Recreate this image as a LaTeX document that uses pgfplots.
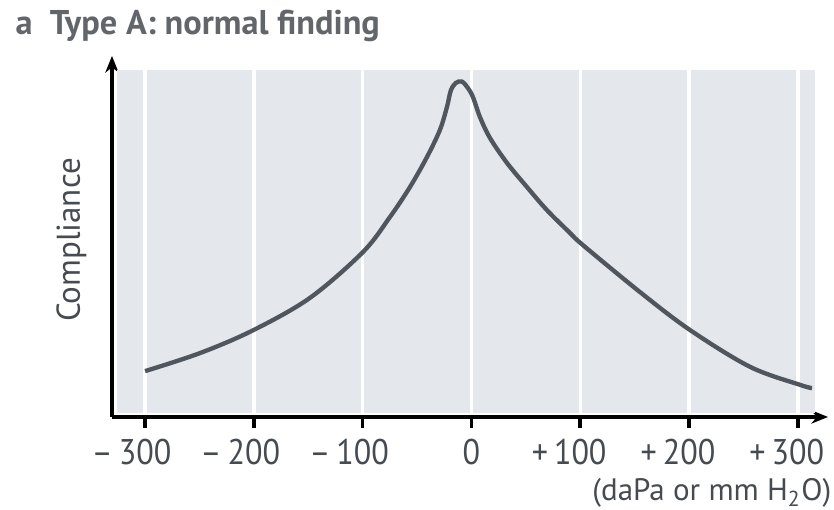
\documentclass[border=0pt]{standalone}
\usepackage{pgfplots}
\pgfplotsset{compat=1.18}
\usepackage{fontspec}
\setmainfont{PT Sans}
\newfontfamily\tickfont{PT Sans}[FakeStretch=0.9]
\usetikzlibrary{arrows.meta}

\definecolor{panelgray}{HTML}{E4E7EB}
\definecolor{curvegray}{HTML}{50565E}
\definecolor{textgray}{HTML}{464B51}

\begin{document}
\begin{tikzpicture}
\begin{axis}[
    scale only axis,
    width=214.8pt, height=108.3pt,
    xmin=-330.4, xmax=327.7,
    ymin=0, ymax=100,
    axis lines=left,
    axis line style={line width=1.1pt, black, -{Stealth[length=5pt,width=4pt]}},
    clip=false,
    xtick={-300,-200,-100,0,100,200,300},
    xticklabels={\llap{–\,}300,\llap{–\,}200,\llap{–\,}100,0,\llap{+\,}100,\llap{+\,}200,\llap{+\,}300},
    ytick=\empty,
    tick align=outside,
    major tick length=3.3pt,
    tick style={line width=1.1pt, black},
    xticklabel style={anchor=base, yshift=-11.1pt, font=\tickfont\fontsize{10.7}{12}\selectfont, text=textgray},
]
% panel background and white grid lines
\fill[panelgray] (axis cs:-325.8,1.1) rectangle (axis cs:315.7,96.1);
\foreach \gx in {-300,-200,-100,0,100,200,300}{
  \edef\tmp{\noexpand\draw[white, line width=1pt] (axis cs:\gx,1.1) -- (axis cs:\gx,96.1);}
  \tmp
}

\addplot[curvegray, line width=1.3pt, smooth, tension=0.55, no marks] coordinates {
  (-300,12.7) (-249.5,17.7) (-200.8,24.0) (-148.4,33.0) (-99.7,45.7)
  (-74.9,55.4) (-56.5,63.7) (-40.9,72.0) (-29.0,79.5) (-22.5,85.9)
  (-19.0,90.4) (-14.5,92.5) (-8.7,92.9) (-3.2,91.1) (1.4,88.6)
  (7.8,83.1) (17.0,77.3) (32.6,70.4) (51.0,63.7) (69.4,57.3)
  (90.5,51.0) (102.5,47.6) (154.9,34.6) (200.8,24.1) (256,13.9)
  (302,8.9) (313,8.0)
};

\node[inner sep=0pt, anchor=base west, text=textgray!85, font=\bfseries\fontsize{10.3}{12}\selectfont]
  at (rel axis cs:-0.1355,1.0582) {a\enspace Type A: normal finding};
\node[inner sep=0pt, anchor=base, rotate=90, text=textgray, font=\fontsize{9.9}{11}\selectfont]
  at (rel axis cs:-0.0447,0.4903) {Compliance};
\node[inner sep=0pt, anchor=base east, text=textgray, font=\fontsize{9.3}{10}\selectfont]
  at (rel axis cs:1.0056,-0.2327) {(daPa or mm H\textsubscript{2}O)};

\coordinate (bbl) at (rel axis cs:-0.1564,-0.2576);
\coordinate (btr) at (rel axis cs:1.0084,1.1551);
\end{axis}
\pgfresetboundingbox
\useasboundingbox (bbl) rectangle (btr);
\end{tikzpicture}
\end{document}
